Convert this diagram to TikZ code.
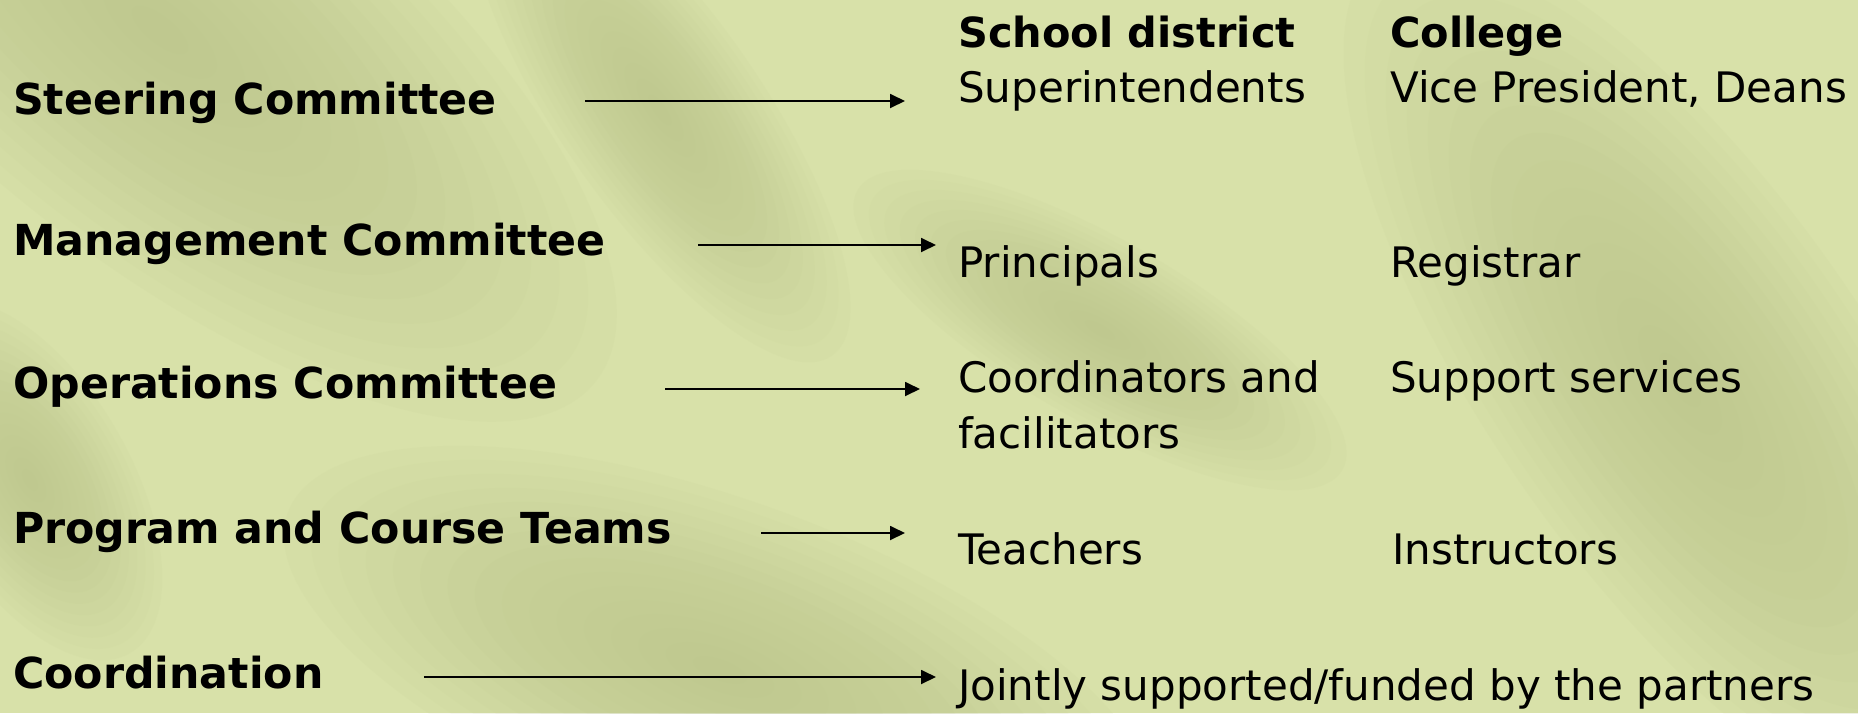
\documentclass[tikz,border=0pt]{standalone}
\usepackage{fontspec}
\setmainfont{DejaVu Sans}
\usetikzlibrary{arrows.meta}
\definecolor{bglight}{RGB}{216,225,169}
\definecolor{bgdark}{RGB}{184,194,136}
\newcommand\mysoftblob[5]{%
  \begin{scope}[shift={(#1,#2)},rotate=#3]
    \foreach \k in {1,...,16}{\fill[bgdark,opacity=0.065] (0,0) ellipse [x radius={#4*\k/16},y radius={#5*\k/16}];}
  \end{scope}}
\begin{document}
\begin{tikzpicture}[x=1pt,y=-1pt,
  lbl/.style={anchor=base west,inner sep=0pt,font=\fontsize{42.7}{56}\selectfont\bfseries},
  hdr/.style={anchor=base west,inner sep=0pt,font=\fontsize{41.5}{56}\selectfont\bfseries},
  txt/.style={anchor=base west,inner sep=0pt,font=\fontsize{42}{56}\selectfont},
  conn/.style={line width=1.8pt,-{Triangle[length=15pt,width=14pt]}}]
\fill[bglight] (0,0) rectangle (1858,713);
\useasboundingbox (0,0) rectangle (1858,713);
% soft background swirls
\begin{scope}
\clip (0,0) rectangle (1858,713);
\mysoftblob{160}{30}{-39}{560}{220}
\mysoftblob{660}{110}{-55}{300}{100}
\mysoftblob{1680}{380}{-55}{520}{190}
\mysoftblob{720}{670}{-20}{460}{170}
\mysoftblob{30}{480}{-60}{200}{100}
\mysoftblob{1100}{330}{-30}{280}{90}
\end{scope}
% left labels
\node[lbl] (steer) at (13,114) {Steering Committee};
\node[lbl] (manage) at (13,255) {Management Committee};
\node[lbl] (oper) at (13,398) {Operations Committee};
\node[lbl] (prog) at (13,543) {Program and Course Teams};
\node[lbl] (coord) at (13,688) {Coordination};
% column headers
\node[hdr] (hschool) at (958,47) {School district};
\node[hdr] (hcollege) at (1390,47) {College};
% right entries
\node[txt] (super) at (958,102) {Superintendents};
\node[txt] (vp) at (1390,102) {Vice President, Deans};
\node[txt] (princ) at (958,277) {Principals};
\node[txt] (reg) at (1390,277) {Registrar};
\node[txt] (coordA) at (958,392) {Coordinators and};
\node[txt] (coordB) at (958,448) {facilitators};
\node[txt] (supp) at (1390,392) {Support services};
\node[txt] (teach) at (958,564) {Teachers};
\node[txt] (instr) at (1392,564) {Instructors};
\node[txt] (joint) at (958,700) {Jointly supported/funded by the partners};
% arrows
\coordinate (a1s) at (585,101); \coordinate (a1e) at (905,101);
\coordinate (a2s) at (698,245); \coordinate (a2e) at (936,245);
\coordinate (a3s) at (665,389); \coordinate (a3e) at (920,389);
\coordinate (a4s) at (761,533); \coordinate (a4e) at (905,533);
\coordinate (a5s) at (424,677); \coordinate (a5e) at (936,677);
\draw[conn] (a1s) -- (a1e);
\draw[conn] (a2s) -- (a2e);
\draw[conn] (a3s) -- (a3e);
\draw[conn] (a4s) -- (a4e);
\draw[conn] (a5s) -- (a5e);
\end{tikzpicture}
\end{document}
